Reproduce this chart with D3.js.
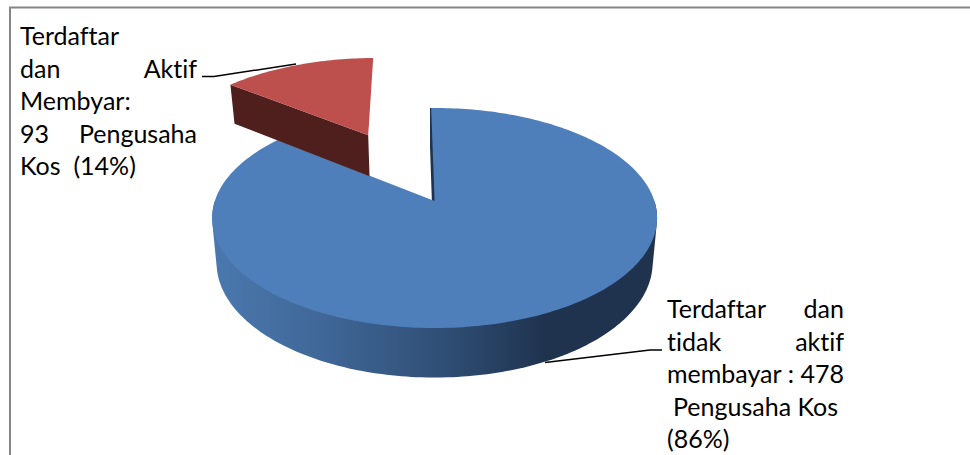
<!DOCTYPE html>
<html>
<head>
<meta charset="utf-8">
<script src="https://cdn.jsdelivr.net/npm/d3@7"></script>
<style>
html,body{margin:0;padding:0;background:#fff}
svg{display:block}
text{font-family:Lato,"Open Sans",sans-serif;font-size:25px;fill:#000;font-variant-ligatures:none}
</style>
</head>
<body>
<svg></svg>
<script>
// values as printed on the chart
var categories = ["Terdaftar dan tidak aktif membayar", "Terdaftar dan Aktif Membayar"]
var percents = [86, 14]
var sliceColors = ["#4f7fbb", "#bd4f4c"]
var wallColors = ["#1f334f", "#4f1f1e"]
var explode = [0, 0.755]

// each line is split where the word gap is stretched (justified in the original)
var labelBlue = [["Terdaftar", "dan"], ["tidak", "aktif"], ["membayar", ": 478"], ["Pengusaha Kos"], ["(86%)"]]
var labelRed = [["Terdaftar"], ["dan", "Aktif"], ["Membyar:"], ["93", "Pengusaha"], ["Kos  (14%)"]]

var screen = {width: 970, height: 455}
var svg = d3.select("svg").attr("width", screen.width).attr("height", screen.height)

// frame
svg.append("path")
    .attr("d", "M10,455V7.5H970")
    .attr("fill", "none")
    .attr("stroke", "#868686")
    .attr("stroke-width", 2)

// tilted disc, perspective: k makes the near side bigger than the far side
var apex = {x: 434.6, y: 201}
var rx = 219.8, ry = 107.4, k = 0.1545
var baseScale = 0.98, depth = 44

var project = function(u, v, bottom)
{
    var w = 1 - k * v
    var x = rx * u / w
    var y = ry * v / w
    if (bottom) {
        x = x * baseScale
        y = y * baseScale + depth / w
    }
    return [apex.x + x, apex.y + y]
}

var rotation = -0.018
var pie = d3.pie().sort(null).startAngle(rotation).endAngle(2 * Math.PI + rotation)
var arcs = pie(percents)

var pointAt = function(d, i, r, a, bottom)
{
    var mid = (d.startAngle + d.endAngle) / 2
    var u0 = explode[i] * Math.sin(mid), v0 = -explode[i] * Math.cos(mid)
    return project(u0 + r * Math.sin(a), v0 - r * Math.cos(a), bottom)
}

var rimAngles = function(d)
{
    var n = Math.ceil((d.endAngle - d.startAngle) / 0.02)
    return d3.range(n + 1).map(function(j) { return d.startAngle + (d.endAngle - d.startAngle) * j / n })
}

var line = d3.line()

var gradient = svg.append("defs").append("linearGradient")
    .attr("id", "blueWall")
    .attr("gradientUnits", "userSpaceOnUse")
    .attr("x1", 213).attr("x2", 545).attr("y1", 0).attr("y2", 0)
gradient.append("stop").attr("offset", 0).attr("stop-color", "#4a78ae")
gradient.append("stop").attr("offset", 0.3).attr("stop-color", "#41699a")
gradient.append("stop").attr("offset", 0.7).attr("stop-color", "#2f4e75")
gradient.append("stop").attr("offset", 1).attr("stop-color", "#1f334f")

var drawSlice = function(d, i)
{
    var angles = rimAngles(d)
    var top = angles.map(function(a) { return pointAt(d, i, 1, a, false) })

    // outer wall, only the part that faces the viewer
    var front = angles.filter(function(a) { return Math.cos(a) <= 0 })
    if (front.length > 2) {
        var rim = front.map(function(a) { return pointAt(d, i, 1, a, false) })
            .concat(front.map(function(a) { return pointAt(d, i, 1, a, true) }))
        svg.append("path")
            .attr("d", line(d3.polygonHull(rim)) + "Z")
            .attr("fill", i == 0 ? "url(#blueWall)" : wallColors[i])
    }

    // cut face at the start of the slice
    var c = pointAt(d, i, 0, 0, false), cb = pointAt(d, i, 0, 0, true)
    svg.append("path")
        .attr("d", line([c, top[0], pointAt(d, i, 1, d.startAngle, true), cb]) + "Z")
        .attr("fill", wallColors[i])
        .attr("stroke", i == 0 ? wallColors[i] : "none")
        .attr("stroke-width", 2.4)

    // top face
    svg.append("path")
        .attr("d", line([c].concat(top)) + "Z")
        .attr("fill", sliceColors[i])
}

arcs.forEach(function(d, i) { drawSlice(d, i) })

// leader lines
var leaders = [
    [[202, 76.5], [214, 76.5], [296, 64]],
    [[662, 350], [650, 350], [545, 362.5]]
]
leaders.forEach(function(l)
{
    svg.append("path")
        .attr("d", line(l))
        .attr("fill", "none")
        .attr("stroke", "#000")
        .attr("stroke-width", 1.5)
})

// labels
var drawLabel = function(lines, x0, x1, y0, indent)
{
    lines.forEach(function(parts, i)
    {
        var y = y0 + i * 32.6
        svg.append("text")
            .attr("x", x0 + (indent[i] || 0))
            .attr("y", y)
            .attr("xml:space", "preserve")
            .text(parts[0])
        if (parts.length > 1) {
            svg.append("text")
                .attr("x", x1)
                .attr("y", y)
                .attr("text-anchor", "end")
                .text(parts[1])
        }
    })
}
drawLabel(labelRed, 20, 197, 45, {})
drawLabel(labelBlue, 667, 844, 318, {3: 6})
</script>
</body>
</html>
